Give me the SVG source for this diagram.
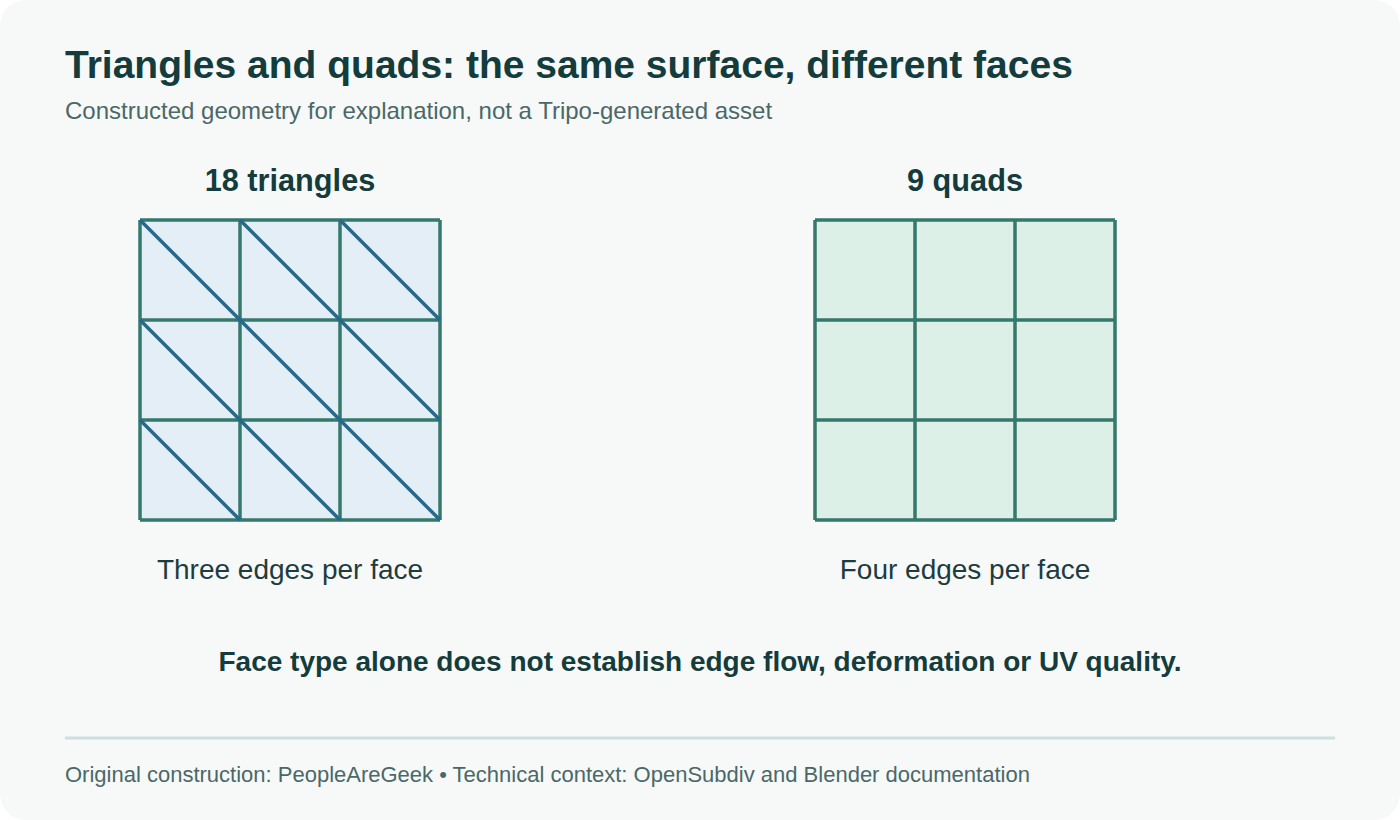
<svg xmlns="http://www.w3.org/2000/svg" width="1400" height="820" viewBox="0 0 1400 820">
<style>
.title{font-family:"Liberation Sans",Arial,sans-serif;font-weight:bold;font-size:39px;fill:#143c3c}
.sub{font-family:"Liberation Sans",Arial,sans-serif;font-size:24px;fill:#4a6868}
.head{font-family:"Liberation Sans",Arial,sans-serif;font-weight:bold;font-size:30.7px;fill:#143c3c;text-anchor:middle}
.cap{font-family:"Liberation Sans",Arial,sans-serif;font-size:28px;fill:#1e3c40;text-anchor:middle}
.note{font-family:"Liberation Sans",Arial,sans-serif;font-weight:bold;font-size:28px;fill:#143c3c;text-anchor:middle}
.foot{font-family:"Liberation Sans",Arial,sans-serif;font-size:22px;fill:#4a6868}
.grid{stroke:#35786c;stroke-width:3.5;fill:none}
.diag{stroke:#27698a;stroke-width:3.5;fill:none}
</style>
<rect x="0" y="0" width="1400" height="820" fill="#ffffff"/>
<rect x="0" y="0" width="1400" height="820" rx="26" fill="#f7f9f8"/>
<text class="title" x="65" y="78">Triangles and quads: the same surface, different faces</text>
<text class="sub" x="65" y="119">Constructed geometry for explanation, not a Tripo-generated asset</text>

<g id="triangles">
<text class="head" x="290" y="191">18 triangles</text>
<rect x="140" y="220" width="300" height="300" fill="#e4eef7"/>
<path class="grid" d="M140 220H440M140 320H440M140 420H440M140 520H440M140 220V520M240 220V520M340 220V520M440 220V520"/>
<path class="diag" d="M140 220L240 320M240 220L340 320M340 220L440 320M140 320L240 420M240 320L340 420M340 320L440 420M140 420L240 520M240 420L340 520M340 420L440 520"/>
<text class="cap" x="290" y="579">Three edges per face</text>
</g>

<g id="quads">
<text class="head" x="965" y="191">9 quads</text>
<rect x="815" y="220" width="300" height="300" fill="#ddf0e7"/>
<path class="grid" d="M815 220H1115M815 320H1115M815 420H1115M815 520H1115M815 220V520M915 220V520M1015 220V520M1115 220V520"/>
<text class="cap" x="965" y="579">Four edges per face</text>
</g>

<text class="note" x="700" y="671">Face type alone does not establish edge flow, deformation or UV quality.</text>
<line x1="65" y1="738" x2="1335" y2="738" stroke="#cde0df" stroke-width="3"/>
<text class="foot" x="65" y="782">Original construction: PeopleAreGeek • Technical context: OpenSubdiv and Blender documentation</text>
</svg>
